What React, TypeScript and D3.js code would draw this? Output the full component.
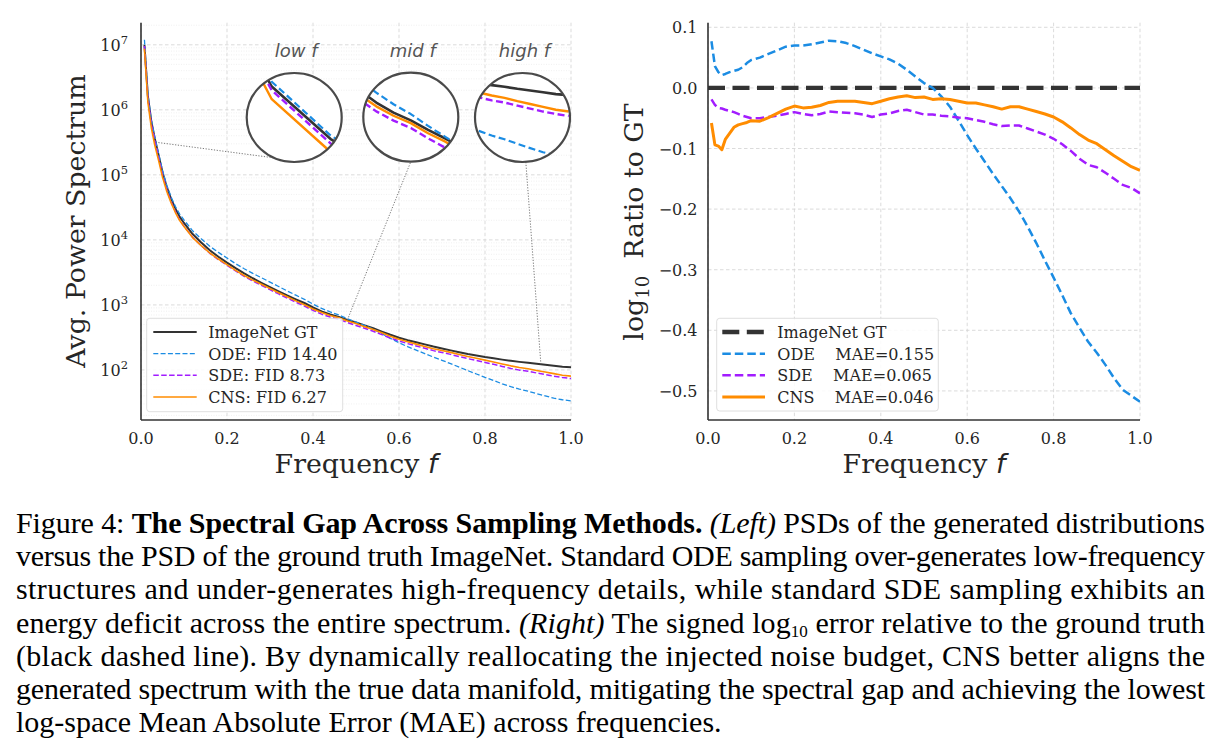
import React from "react";
import * as d3 from "d3";

// Radial frequency bins, normalised so that 1.0 is the Nyquist frequency.
const FREQ = [
  0.008, 0.016, 0.024, 0.032, 0.04, 0.05, 0.06, 0.07, 0.08, 0.09, 0.1,
  0.12, 0.14, 0.16, 0.18, 0.2, 0.22, 0.24, 0.26, 0.28, 0.3, 0.32, 0.34, 0.36, 0.38,
  0.4, 0.42, 0.44, 0.46, 0.48, 0.5, 0.52, 0.54, 0.56, 0.58, 0.6, 0.62, 0.64, 0.66,
  0.68, 0.7, 0.72, 0.74, 0.76, 0.78, 0.8, 0.82, 0.84, 0.86, 0.88, 0.9, 0.92, 0.94,
  0.96, 0.98, 1.0,
];

// Azimuthally averaged power spectrum of the ImageNet ground truth.
const GT_POWER = [
  1.0e7, 1.62e6, 6.61e5, 3.63e5, 2.14e5, 1.1e5, 6.46e4, 4.27e4, 3.02e4, 2.26e4, 1.82e4,
  1.23e4, 9.12e3, 6.92e3, 5.5e3, 4.47e3, 3.67e3, 3.05e3, 2.57e3, 2.19e3, 1.88e3, 1.62e3,
  1.4e3, 1.22e3, 1.07e3, 912, 794, 711, 653, 588, 535, 484, 437, 389, 347, 313, 287, 266,
  247, 229, 214, 200, 187, 176, 167, 158, 151, 144, 138, 133, 129, 124, 120, 116, 112, 110,
];

// Signed log10(PSD_method / PSD_GT) for each sampler, per frequency bin.
const ODE_LOG_RATIO = [
  0.077, 0.036, 0.026, 0.021, 0.023, 0.026, 0.028, 0.03, 0.034, 0.041, 0.046,
  0.05, 0.056, 0.062, 0.068, 0.07, 0.07, 0.072, 0.075, 0.078, 0.077, 0.074, 0.069, 0.063,
  0.057, 0.052, 0.047, 0.04, 0.03, 0.019, 0.008, 0.0, -0.014, -0.031, -0.054, -0.078,
  -0.1, -0.121, -0.142, -0.162, -0.182, -0.204, -0.229, -0.256, -0.285, -0.313, -0.342,
  -0.372, -0.396, -0.419, -0.437, -0.457, -0.479, -0.498, -0.508, -0.518,
];
const SDE_LOG_RATIO = [
  -0.019, -0.028, -0.033, -0.034, -0.036, -0.038, -0.04, -0.043, -0.046, -0.048, -0.05,
  -0.05, -0.048, -0.046, -0.043, -0.04, -0.043, -0.045, -0.043, -0.039, -0.04, -0.041,
  -0.042, -0.044, -0.048, -0.044, -0.042, -0.038, -0.036, -0.04, -0.044, -0.044, -0.046,
  -0.047, -0.049, -0.05, -0.053, -0.056, -0.06, -0.063, -0.062, -0.062, -0.067, -0.072,
  -0.077, -0.084, -0.093, -0.104, -0.117, -0.127, -0.131, -0.14, -0.15, -0.16, -0.165, -0.174,
];
const CNS_LOG_RATIO = [
  -0.058, -0.094, -0.096, -0.102, -0.085, -0.075, -0.065, -0.061, -0.059, -0.057, -0.054,
  -0.055, -0.049, -0.042, -0.035, -0.03, -0.033, -0.032, -0.029, -0.024, -0.022, -0.022,
  -0.022, -0.024, -0.026, -0.022, -0.018, -0.015, -0.013, -0.016, -0.015, -0.019, -0.018,
  -0.019, -0.022, -0.025, -0.025, -0.028, -0.031, -0.035, -0.031, -0.031, -0.035, -0.039,
  -0.043, -0.048, -0.056, -0.066, -0.077, -0.086, -0.092, -0.102, -0.112, -0.121, -0.13, -0.136,
];

const LEFT_LEGEND_LABELS = ["ImageNet GT", "ODE: FID 14.40", "SDE: FID 8.73", "CNS: FID 6.27"];
const RIGHT_LEGEND_NAMES = ["ImageNet GT", "ODE", "SDE", "CNS"];
const RIGHT_LEGEND_MAE = ["", "0.155", "0.065", "0.046"];
const FREQ_TICKS = [0, 0.2, 0.4, 0.6, 0.8, 1.0];
const POWER_TICK_EXPONENTS = [2, 3, 4, 5, 6, 7];
const RATIO_TICKS = [0.1, 0.0, -0.1, -0.2, -0.3, -0.4, -0.5];
const ZOOM_LABELS = ["low", "mid", "high"];

type Seg = { t: string; b?: boolean; i?: boolean; sub?: boolean };
const CAPTION_LINES: Seg[][] = [
  [
    { t: "Figure 4: " },
    { t: "The Spectral Gap Across Sampling Methods.", b: true },
    { t: " " },
    { t: "(Left)", i: true },
    { t: " PSDs of the generated distributions" },
  ],
  [{ t: "versus the PSD of the ground truth ImageNet. Standard ODE sampling over-generates low-frequency" }],
  [{ t: "structures and under-generates high-frequency details, while standard SDE sampling exhibits an" }],
  [
    { t: "energy deficit across the entire spectrum. " },
    { t: "(Right)", i: true },
    { t: " The signed log" },
    { t: "10", sub: true },
    { t: " error relative to the ground truth" },
  ],
  [{ t: "(black dashed line). By dynamically reallocating the injected noise budget, CNS better aligns the" }],
  [{ t: "generated spectrum with the true data manifold, mitigating the spectral gap and achieving the lowest" }],
  [{ t: "log-space Mean Absolute Error (MAE) across frequencies." }],
];

const SERIF = "'DejaVu Serif', serif";
const SANS = "'DejaVu Sans', sans-serif";
const TIMES = "'Liberation Serif', 'Times New Roman', serif";
const LABEL_SIZE = 26.8;

const COLORS = { gt: "#333333", ode: "#1b8ce3", sde: "#a21cff", cns: "#ff8c00" };

type Key = "gt" | "ode" | "sde" | "cns";
const METHODS: { key: Key; ratio: number[] | null }[] = [
  { key: "gt", ratio: null },
  { key: "ode", ratio: ODE_LOG_RATIO },
  { key: "sde", ratio: SDE_LOG_RATIO },
  { key: "cns", ratio: CNS_LOG_RATIO },
];

const LEFT_STYLE: Record<Key, { w: number; dash?: string }> = {
  gt: { w: 2 },
  ode: { w: 1.3, dash: "5,2.3" },
  sde: { w: 1.5, dash: "5.5,2.4" },
  cns: { w: 1.6 },
};
const INSET_STYLE: Record<Key, { w: number; dash?: string }> = {
  gt: { w: 2.6 },
  ode: { w: 2.2, dash: "7,3.5" },
  sde: { w: 2.4, dash: "7,3.5" },
  cns: { w: 2.4 },
};
const RIGHT_STYLE: Record<Key, { w: number; dash?: string }> = {
  gt: { w: 4.3, dash: "17,7.5" },
  ode: { w: 2.5, dash: "8.5,4" },
  sde: { w: 2.5, dash: "8.5,4" },
  cns: { w: 3 },
};

// Zoomed views drawn as circles above the left panel.
const INSET_VIEWS = [
  { cx: 294.2, cy: 117.5, f: [0.0126, 0.0255], logP: [5.65, 6.31], anchorF: 0.034, anchorDeg: 114.8 },
  { cx: 410.8, cy: 117.2, f: [0.405, 0.515], logP: [2.618, 3.042], anchorF: 0.48, anchorDeg: 90 },
  { cx: 522.5, cy: 117.5, f: [0.854, 1.002], logP: [1.485, 2.225], anchorF: 0.93, anchorDeg: 86 },
];
const INSET_RX = 47.5;
const INSET_RY = 44.5;

function gtPowerAt(f: number) {
  const i = Math.max(0, Math.min(FREQ.length - 2, d3.bisectRight(FREQ, f) - 1));
  const t = (f - FREQ[i]) / (FREQ[i + 1] - FREQ[i]);
  return 10 ** ((1 - t) * Math.log10(GT_POWER[i]) + t * Math.log10(GT_POWER[i + 1]));
}

export default function App() {
  const L = { x0: 141, x1: 571, y0: 420, y1: 22.7 };
  const R = { x0: 708, x1: 1140, y0: 420, y1: 22.7 };

  const xL = d3.scaleLinear().domain([0, 1]).range([L.x0, L.x1]);
  const yL = d3.scaleLog().domain([10 ** 1.23, 10 ** 7.34]).range([L.y0, L.y1]);
  const xR = d3.scaleLinear().domain([0, 1]).range([R.x0, R.x1]);
  const yR = d3.scaleLinear().domain([-0.548, 0.1076]).range([R.y0, R.y1]);

  // Generated spectra follow from the ground truth and each method's log-ratio.
  const psd = (m: { ratio: number[] | null }): [number, number][] =>
    FREQ.map((f, i) => [f, GT_POWER[i] * (m.ratio ? 10 ** m.ratio[i] : 1)]);

  const lineL = d3
    .line<[number, number]>()
    .x((d) => xL(d[0]))
    .y((d) => yL(d[1]));
  const lineR = d3
    .line<[number, number]>()
    .x((d) => xR(d[0]))
    .y((d) => yR(d[1]));

  const fmt1 = d3.format(".1f");
  const minorPowers = yL.ticks().filter((v) => Math.abs(Math.log10(v) - Math.round(Math.log10(v))) > 1e-6);

  const gridMajor = { stroke: "#d2d2d2", strokeWidth: 0.8, strokeDasharray: "3.5,2.5" };
  const gridMinor = { stroke: "#e6e6e6", strokeWidth: 0.6, strokeDasharray: "1,1.5" };

  const legendRowsY = [332, 353.7, 375.3, 397];

  return (
    <svg
      width={1221}
      height={753}
      viewBox="0 0 1221 753"
      style={{ position: "absolute", left: 0, top: 0, background: "#fff" }}
    >
      <defs>
        <clipPath id="clipL">
          <rect x={L.x0} y={L.y1} width={L.x1 - L.x0} height={L.y0 - L.y1} />
        </clipPath>
        <clipPath id="clipR">
          <rect x={R.x0} y={R.y1} width={R.x1 - R.x0} height={R.y0 - R.y1} />
        </clipPath>
        {INSET_VIEWS.map((v, k) => (
          <clipPath id={`inset${k}`} key={k}>
            <ellipse cx={v.cx} cy={v.cy} rx={INSET_RX} ry={INSET_RY} />
          </clipPath>
        ))}
      </defs>
      <rect x={0} y={0} width={1221} height={753} fill="#fff" />

      {/* ---------- Left panel: power spectra ---------- */}
      <g>
        {minorPowers.map((v, k) => (
          <line key={`mn${k}`} x1={L.x0} x2={L.x1} y1={yL(v)} y2={yL(v)} {...gridMinor} />
        ))}
        {POWER_TICK_EXPONENTS.map((e) => (
          <line key={`mj${e}`} x1={L.x0} x2={L.x1} y1={yL(10 ** e)} y2={yL(10 ** e)} {...gridMajor} />
        ))}
        {FREQ_TICKS.map((f) => (
          <line key={`vx${f}`} x1={xL(f)} x2={xL(f)} y1={L.y1} y2={L.y0} {...gridMajor} />
        ))}
      </g>
      <g clipPath="url(#clipL)">
        {METHODS.map((m) => (
          <path
            key={m.key}
            d={lineL(psd(m)) || ""}
            fill="none"
            stroke={COLORS[m.key]}
            strokeWidth={LEFT_STYLE[m.key].w}
            strokeDasharray={LEFT_STYLE[m.key].dash}
            strokeLinejoin="round"
          />
        ))}
      </g>
      {/* spines */}
      <line x1={L.x0} x2={L.x0} y1={L.y1} y2={L.y0} stroke="#333" strokeWidth={1.6} />
      <line x1={L.x0} x2={L.x1} y1={L.y0} y2={L.y0} stroke="#333" strokeWidth={1.6} />

      {/* tick labels */}
      {FREQ_TICKS.map((f) => (
        <text key={`xlL${f}`} x={xL(f)} y={443.5} textAnchor="middle" fontFamily={SERIF} fontSize={16} fill="#262626">
          {fmt1(f)}
        </text>
      ))}
      {POWER_TICK_EXPONENTS.map((e) => (
        <text key={`ylL${e}`} x={128} y={yL(10 ** e) + 6.5} textAnchor="end" fontFamily={SERIF} fontSize={16} fill="#262626">
          10
          <tspan dy={-7} fontSize={11.5}>
            {e}
          </tspan>
        </text>
      ))}
      <text x={(L.x0 + L.x1) / 2} y={473} textAnchor="middle" fontFamily={SERIF} fontSize={LABEL_SIZE} fill="#262626">
        Frequency <tspan fontFamily={SANS} fontStyle="italic">f</tspan>
      </text>
      <text
        transform="translate(85,221) rotate(-90)"
        textAnchor="middle"
        fontFamily={SERIF}
        fontSize={LABEL_SIZE}
        fill="#262626"
      >
        Avg. Power Spectrum
      </text>

      {/* connectors from the main curve to each zoomed view */}
      {INSET_VIEWS.map((v, k) => {
        const a = (v.anchorDeg * Math.PI) / 180;
        return (
          <line
            key={`con${k}`}
            x1={xL(v.anchorF)}
            y1={yL(gtPowerAt(v.anchorF))}
            x2={v.cx + INSET_RX * Math.cos(a)}
            y2={v.cy + INSET_RY * Math.sin(a)}
            stroke="#666"
            strokeWidth={0.9}
            strokeDasharray="1.2,1.6"
          />
        );
      })}

      {/* zoomed views */}
      {INSET_VIEWS.map((v, k) => {
        const xi = d3.scaleLinear().domain(v.f).range([v.cx - INSET_RX, v.cx + INSET_RX]);
        const yi = d3
          .scaleLog()
          .domain([10 ** v.logP[0], 10 ** v.logP[1]])
          .range([v.cy + INSET_RY, v.cy - INSET_RY]);
        const li = d3
          .line<[number, number]>()
          .x((d) => xi(d[0]))
          .y((d) => yi(d[1]));
        return (
          <g key={`inset${k}`}>
            <ellipse cx={v.cx} cy={v.cy} rx={INSET_RX} ry={INSET_RY} fill="#fff" />
            <g clipPath={`url(#inset${k})`}>
              {METHODS.map((m) => (
                <path
                  key={m.key}
                  d={li(psd(m)) || ""}
                  fill="none"
                  stroke={COLORS[m.key]}
                  strokeWidth={INSET_STYLE[m.key].w}
                  strokeDasharray={INSET_STYLE[m.key].dash}
                  strokeLinejoin="round"
                />
              ))}
            </g>
            <ellipse cx={v.cx} cy={v.cy} rx={INSET_RX} ry={INSET_RY} fill="none" stroke="#4a4a4a" strokeWidth={2.2} />
            <text
              x={v.cx + 2}
              y={57}
              textAnchor="middle"
              fontFamily={SANS}
              fontStyle="italic"
              fontSize={18}
              fill="#555"
            >
              {ZOOM_LABELS[k]} f
            </text>
          </g>
        );
      })}

      {/* left legend */}
      <rect x={146.7} y={318.3} width={196} height={93.4} rx={3} fill="#fff" fillOpacity={0.85} stroke="#d5d5d5" strokeWidth={0.8} />
      {METHODS.map((m, k) => (
        <g key={`lgL${m.key}`}>
          <line
            x1={153.3}
            x2={196.7}
            y1={legendRowsY[k]}
            y2={legendRowsY[k]}
            stroke={COLORS[m.key]}
            strokeWidth={LEFT_STYLE[m.key].w}
            strokeDasharray={LEFT_STYLE[m.key].dash}
          />
          <text x={208.3} y={legendRowsY[k] + 6} fontFamily={SERIF} fontSize={16} fill="#262626">
            {LEFT_LEGEND_LABELS[k]}
          </text>
        </g>
      ))}

      {/* ---------- Right panel: log-ratio to ground truth ---------- */}
      <g>
        {RATIO_TICKS.map((t) => (
          <line key={`rg${t}`} x1={R.x0} x2={R.x1} y1={yR(t)} y2={yR(t)} {...gridMajor} />
        ))}
        {FREQ_TICKS.map((f) => (
          <line key={`rv${f}`} x1={xR(f)} x2={xR(f)} y1={R.y1} y2={R.y0} {...gridMajor} />
        ))}
      </g>
      <g clipPath="url(#clipR)">
        <line
          x1={xR(0)}
          x2={xR(1)}
          y1={yR(0)}
          y2={yR(0)}
          stroke={COLORS.gt}
          strokeWidth={RIGHT_STYLE.gt.w}
          strokeDasharray={RIGHT_STYLE.gt.dash}
        />
        {METHODS.filter((m) => m.ratio).map((m) => (
          <path
            key={`r${m.key}`}
            d={lineR(FREQ.map((f, i) => [f, (m.ratio as number[])[i]] as [number, number])) || ""}
            fill="none"
            stroke={COLORS[m.key]}
            strokeWidth={RIGHT_STYLE[m.key].w}
            strokeDasharray={RIGHT_STYLE[m.key].dash}
            strokeLinejoin="round"
          />
        ))}
      </g>
      <line x1={R.x0} x2={R.x0} y1={R.y1} y2={R.y0} stroke="#333" strokeWidth={1.6} />
      <line x1={R.x0} x2={R.x1} y1={R.y0} y2={R.y0} stroke="#333" strokeWidth={1.6} />

      {FREQ_TICKS.map((f) => (
        <text key={`xlR${f}`} x={xR(f)} y={443.5} textAnchor="middle" fontFamily={SERIF} fontSize={16} fill="#262626">
          {fmt1(f)}
        </text>
      ))}
      {RATIO_TICKS.map((t) => (
        <text key={`ylR${t}`} x={697.5} y={yR(t) + 6} textAnchor="end" fontFamily={SERIF} fontSize={16} fill="#262626">
          {fmt1(t)}
        </text>
      ))}
      <text x={(R.x0 + R.x1) / 2} y={473} textAnchor="middle" fontFamily={SERIF} fontSize={LABEL_SIZE} fill="#262626">
        Frequency <tspan fontFamily={SANS} fontStyle="italic">f</tspan>
      </text>
      <text
        transform="translate(643,222) rotate(-90)"
        textAnchor="middle"
        fontFamily={SERIF}
        fontSize={LABEL_SIZE}
        fill="#262626"
        style={{ whiteSpace: "pre" }}
      >
        log
        <tspan dy={6} fontSize={18}>
          10
        </tspan>
        <tspan dy={-6}>{"  Ratio to GT"}</tspan>
      </text>

      {/* right legend */}
      <rect x={716.7} y={318.3} width={221.6} height={92.7} rx={3} fill="#fff" fillOpacity={0.85} stroke="#d5d5d5" strokeWidth={0.8} />
      {METHODS.map((m, k) => (
        <g key={`lgR${m.key}`}>
          <line
            x1={722.3}
            x2={765}
            y1={legendRowsY[k]}
            y2={legendRowsY[k]}
            stroke={COLORS[m.key]}
            strokeWidth={RIGHT_STYLE[m.key].w}
            strokeDasharray={RIGHT_STYLE[m.key].dash}
          />
          <text x={777.3} y={legendRowsY[k] + 6} fontFamily={SERIF} fontSize={16} fill="#262626" style={{ whiteSpace: "pre" }}>
            {RIGHT_LEGEND_MAE[k] ? `${RIGHT_LEGEND_NAMES[k]}    MAE=${RIGHT_LEGEND_MAE[k]}` : RIGHT_LEGEND_NAMES[k]}
          </text>
        </g>
      ))}

      {/* ---------- caption ---------- */}
      {CAPTION_LINES.map((segs, k) => (
        <text
          key={`cap${k}`}
          x={16}
          y={533 + k * 33.2}
          fontFamily={TIMES}
          fontSize={30}
          fill="#000"
          textLength={k < CAPTION_LINES.length - 1 ? 1189 : undefined}
          lengthAdjust="spacing"
          style={{ whiteSpace: "pre" }}
        >
          {segs.map((s, j) => (
            <tspan
              key={j}
              fontWeight={s.b ? "bold" : undefined}
              fontStyle={s.i ? "italic" : undefined}
              fontSize={s.sub ? 17 : undefined}
              dy={s.sub ? 4.5 : j > 0 && segs[j - 1].sub ? -4.5 : undefined}
            >
              {s.t}
            </tspan>
          ))}
        </text>
      ))}
    </svg>
  );
}
